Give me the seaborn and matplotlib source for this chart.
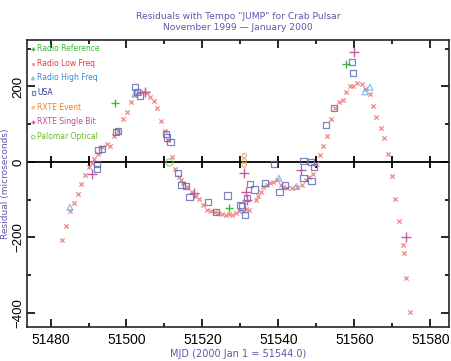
import numpy as np
import pandas as pd
import matplotlib
matplotlib.use("Agg")
import matplotlib.pyplot as plt
import seaborn as sns

# residuals (MJD, microseconds)
lo_mjd = [51483.1, 51484.2, 51485.1, 51486.1, 51487.1, 51488.1, 51489.2, 51490.2, 51491.0, 51491.5,
          51492.6, 51493.6, 51494.9, 51495.7, 51496.8, 51497.8, 51499.1, 51500.1, 51501.1, 51502.2,
          51503.3, 51504.3, 51505.3, 51506.3, 51507.2, 51508.1, 51509.1, 51510.1, 51511.0, 51512.0,
          51512.9, 51513.8, 51514.3, 51515.0, 51516.0, 51517.2, 51518.2, 51519.1, 51520.2, 51521.3,
          51522.3, 51523.3, 51524.2, 51525.1, 51526.2, 51527.0, 51527.7, 51528.8, 51529.7, 51530.6,
          51531.4, 51532.2, 51534.0, 51534.7, 51535.4, 51536.0, 51536.9, 51537.8, 51538.6, 51539.5,
          51540.6, 51541.3, 51542.2, 51543.5, 51544.8, 51546.1, 51547.2, 51548.0, 51549.2, 51549.9,
          51550.9, 51551.8, 51552.8, 51553.9, 51554.9, 51556.0, 51556.9, 51557.9, 51558.8, 51559.7,
          51560.7, 51561.9, 51562.8, 51564.0, 51564.8, 51565.8, 51566.9, 51567.8, 51568.9, 51569.9,
          51570.8, 51571.8, 51572.8, 51573.0, 51573.6, 51574.7]
lo_res = [-207, -169, -131, -108, -85, -58, -34, -12, -2, 8,
          21, 39, 48, 42, 69, 83, 113, 133, 158, 178,
          182, 185, 182, 172, 161, 142, 109, 82, 57, 12,
          -19, -39, -48, -55, -67, -80, -89, -99, -114, -127,
          -131, -133, -136, -139, -140, -137, -141, -136, -131, -130,
          -125, -126, -100, -90, -79, -65, -61, -57, -52, -48,
          -60, -65, -68, -68, -67, -61, -49, -39, -32, -6,
          19, 42, 69, 113, 142, 159, 164, 184, 201, 202,
          210, 207, 193, 179, 149, 118, 90, 64, 21, -37,
          -98, -157, -220, -241, -306, -398]

usa_mjd = [51492.2, 51492.3, 51492.6, 51493.5, 51497.2, 51497.8, 51502.3, 51502.8, 51503.6, 51510.5,
           51510.7, 51511.6, 51513.5, 51514.5, 51515.6, 51516.6, 51521.5, 51523.5, 51526.6, 51530.0,
           51530.4, 51531.3, 51531.7, 51532.5, 51533.7, 51536.4, 51538.9, 51540.3, 51541.8, 51546.6,
           51546.6, 51548.6, 51548.7, 51549.4, 51552.5, 51554.7, 51559.3, 51559.7]
usa_res = [-5, -19, 32, 34, 80, 82, 199, 186, 176, 75,
           65, 52, -30, -62, -64, -93, -105, -133, -89, -114,
           -118, -140, -96, -58, -73, -56, -5, -80, -61, 3,
           -43, -1, -50, -13, 98, 142, 265, 235]

hi_mjd = [51485.1, 51502.2, 51540.1, 51544.7, 51562.8, 51564.1]
hi_res = [-120, 180, -43, -65, 186, 198]

ref_mjd = [51497.0, 51527.0, 51557.9]
ref_res = [157, -123, 260]

evt_mjd = [51531.0, 51531.0, 51531.0]
evt_res = [17, 3, -8]

sb_mjd = [51490.9, 51505.0, 51517.7, 51530.9, 51531.4, 51531.6, 51545.9, 51559.9, 51573.6]
sb_res = [-33, 185, -82, -28, -79, -100, -21, 291, -198]

opt_mjd = [51511.3]
opt_res = [-1]

series = [
    ("Radio Reference", ref_mjd, ref_res, "+", "#3cb83c", "#3cb83c", 26),
    ("Radio Low Freq", lo_mjd, lo_res, "x", "#f29494", "#e83838", 10),
    ("Radio High Freq", hi_mjd, hi_res, "^", "#6ab0e4", "#2e8ad6", 18),
    ("USA", usa_mjd, usa_res, "s", "#5a68b4", "#2c3c98", 20),
    ("RXTE Event", evt_mjd, evt_res, "o", "#f2a050", "#f08020", 10),
    ("RXTE Single Bit", sb_mjd, sb_res, "+", "#c45ca4", "#c04898", 45),
    ("Palomar Optical", opt_mjd, opt_res, "o", "#8ccc50", "#6cbc28", 26),
]

sns.set_style("ticks")
fig = plt.figure(figsize=(4.52, 3.61), dpi=100)
ax = fig.add_axes([0.0597, 0.0942, 0.9336, 0.795])

for name, xs, ys, mk, col, tcol, sz in series:
    df = pd.DataFrame({"mjd": xs, "res": ys})
    if mk in ("x", "+"):
        sns.scatterplot(data=df, x="mjd", y="res", marker=mk, color=col, s=sz,
                        linewidth=1.0, ax=ax, label=name)
    else:
        sns.scatterplot(data=df, x="mjd", y="res", marker=mk, s=sz, facecolor="none",
                        edgecolor=col, linewidth=0.9, alpha=0.8, ax=ax, label=name)

ax.set_xlim(51473.8, 51584.9)
ax.set_ylim(-437, 323)

# zero line with its own tick marks
ax.axhline(0, color="black", lw=1.3, zorder=0)
zt = np.arange(51480, 51581, 10)
ax.vlines(zt, -16, 16, color="black", lw=1.3, zorder=0)

ax.set_xticks(np.arange(51480, 51581, 20))
ax.set_xticks(np.arange(51480, 51581, 10), minor=True)
ax.set_yticks([-400, -200, 0, 200])
ax.set_yticks(np.arange(-400, 301, 100), minor=True)
ax.tick_params(which="both", direction="in", top=True, right=True, width=1.2, colors="black")
ax.tick_params(which="major", length=6)
ax.tick_params(which="minor", length=3)
ax.tick_params(axis="x", pad=4.5)
ax.tick_params(axis="y", pad=2)
for lab in ax.get_xticklabels():
    lab.set_fontfamily("Liberation Sans")
    lab.set_fontsize(10)
for lab in ax.get_yticklabels():
    lab.set_fontfamily("Liberation Sans")
    lab.set_fontsize(9.5)
    lab.set_rotation(90)
    lab.set_va("center")
for sp in ax.spines.values():
    sp.set_linewidth(1.2)

tc = "#5c58a8"
ax.set_xlabel("MJD (2000 Jan 1 = 51544.0)", color=tc, fontsize=7)
ax.set_ylabel("Residual (microseconds)", color=tc, fontsize=6.5)
ax.xaxis.set_label_coords(0.5, -0.078)
ax.yaxis.set_label_coords(-0.041, 0.5)
fig.text(0.527, 0.955, 'Residuals with Tempo "JUMP" for Crab Pulsar', color=tc,
         fontsize=6.6, ha="center", va="center")
fig.text(0.527, 0.925, "November 1999 \u2014 January 2000", color=tc,
         fontsize=6.6, ha="center", va="center")

leg = ax.legend(loc="upper left", frameon=False, fontsize=5.5, handletextpad=0.2,
                handlelength=0.6, markerscale=0.5, labelspacing=0.75,
                borderaxespad=0.3, borderpad=0.2)
for txt, s in zip(leg.get_texts(), series):
    txt.set_color(s[5])

fig.savefig("out.png", dpi=100)
